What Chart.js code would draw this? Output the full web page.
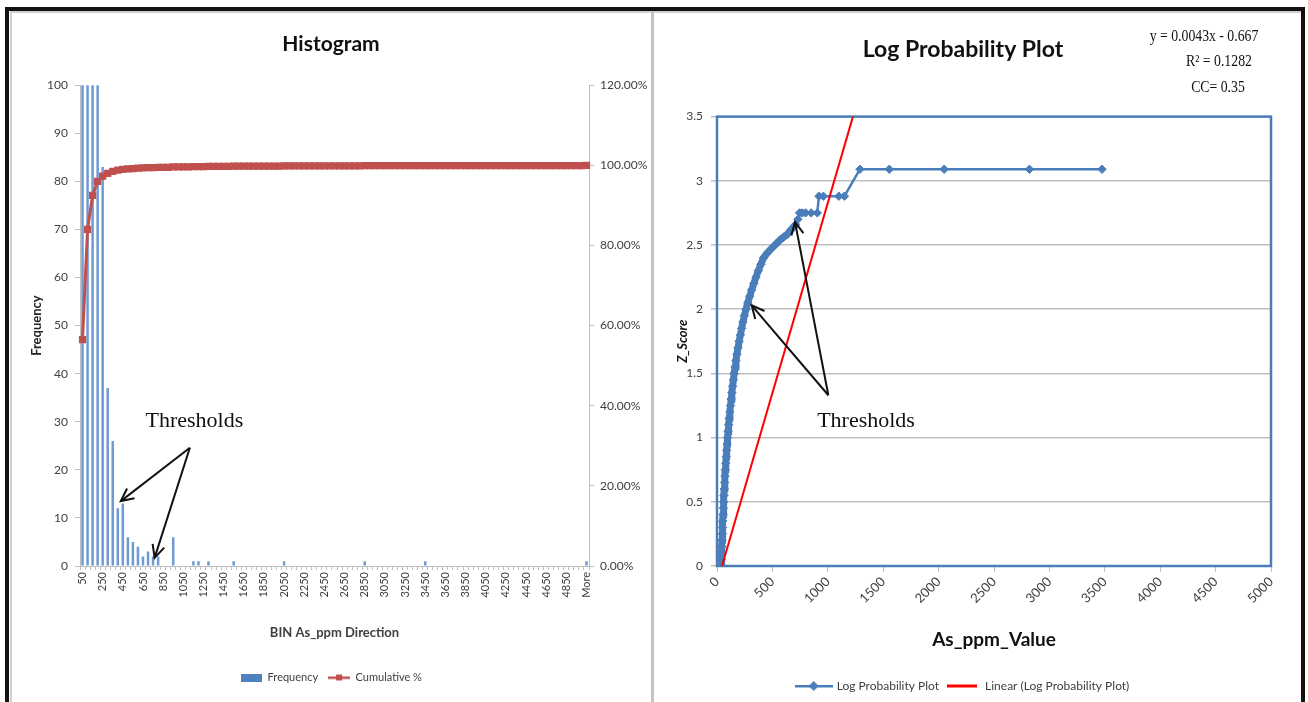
<!DOCTYPE html>
<html lang="en">
<head>
  <meta charset="UTF-8" />
  <title>Histogram and Log Probability Plot</title>
  <script src="https://cdn.jsdelivr.net/npm/chart.js"></script>
  <style>
    body {
      margin: 0;
      background: #fff;
      width: 1308px;
      height: 702px;
      position: relative;
      overflow: hidden;
    }
    #frame {
      position: absolute;
      left: 5px;
      top: 7px;
      width: 1300px;
      height: 710px;
      border: 4px solid #111;
      box-sizing: border-box;
      pointer-events: none;
      z-index: 5;
    }
    .panel {
      position: absolute;
      top: 11px;
      height: 700px;
      border-top: 2px solid #d0d0d0;
      border-left: 2px solid #d0d0d0;
      box-sizing: border-box;
    }
    #divider {
      position: absolute;
      left: 651px;
      top: 11px;
      width: 3px;
      height: 700px;
      background: #c4c4c4;
    }
    canvas { position: absolute; }
  </style>
</head>
<body>
  <div class="panel" style="left:10px;width:642px"></div>
  <div class="panel" style="left:654px;width:650px;border-left:none"></div>
  <div id="divider"></div>
  <canvas id="histChart" style="left:12px;top:13px"></canvas>
  <canvas id="probChart" style="left:655px;top:13px"></canvas>
  <div id="frame"></div>

  <script>
    // HISTOGRAM DATA (bin width 50)
    const binLabels = ['50','100','150','200','250','300','350','400','450','500',
      '550','600','650','700','750','800','850','900','950','1000',
      '1050','1100','1150','1200','1250','1300','1350','1400','1450','1500',
      '1550','1600','1650','1700','1750','1800','1850','1900','1950','2000',
      '2050','2100','2150','2200','2250','2300','2350','2400','2450','2500',
      '2550','2600','2650','2700','2750','2800','2850','2900','2950','3000',
      '3050','3100','3150','3200','3250','3300','3350','3400','3450','3500',
      '3550','3600','3650','3700','3750','3800','3850','3900','3950','4000',
      '4050','4100','4150','4200','4250','4300','4350','4400','4450','4500',
      '4550','4600','4650','4700','4750','4800','4850','4900','4950','5000','More'];

    const frequency = [2540,1240,380,160,83,37,26,12,13,6,
      5,4,2,3,2,2,0,0,6,0,
      0,0,1,1,0,1,0,0,0,0,
      1,0,0,0,0,0,0,0,0,0,
      1,0,0,0,0,0,0,0,0,0,
      0,0,0,0,0,0,1,0,0,0,
      0,0,0,0,0,0,0,0,1,0,
      0,0,0,0,0,0,0,0,0,0,
      0,0,0,0,0,0,0,0,0,0,
      0,0,0,0,0,0,0,0,0,0,1];

    const cumulativePct = [56.5,84.0,92.5,96.0,97.3,98.0,98.5,98.8,99.0,99.1,
      99.2,99.3,99.35,99.4,99.45,99.5,99.5,99.5,99.6,99.6,
      99.6,99.6,99.65,99.7,99.7,99.75,99.75,99.75,99.75,99.75,
      99.8,99.8,99.8,99.8,99.8,99.8,99.8,99.8,99.8,99.8,
      99.85,99.85,99.85,99.85,99.85,99.85,99.85,99.85,99.85,99.85,
      99.85,99.85,99.85,99.85,99.85,99.85,99.9,99.9,99.9,99.9,
      99.9,99.9,99.9,99.9,99.9,99.9,99.9,99.9,99.95,99.95,
      99.95,99.95,99.95,99.95,99.95,99.95,99.95,99.95,99.95,99.95,
      99.95,99.95,99.95,99.95,99.95,99.95,99.95,99.95,99.95,99.95,
      99.95,99.95,99.95,99.95,99.95,99.95,99.95,99.95,99.95,99.95,100];

    // LOG PROBABILITY PLOT DATA
    const asValue = [38,40,42,44,46,48,50,52,55,57,
      60,63,66,69,72,75,79,83,87,91,
      95,100,105,110,116,122,128,134,141,148,
      155,163,171,180,190,200,211,222,234,247,
      262,278,295,313,332,352,373,396,420,455,
      500,535,570,600,630,670,710,730,745,770,
      800,850,905,920,960,1100,1150,1290,1555,2050,2820,3475];
    const zScore = [0.00,0.05,0.10,0.15,0.20,0.25,0.30,0.35,0.40,0.45,
      0.50,0.55,0.60,0.65,0.70,0.75,0.80,0.85,0.90,0.95,
      1.00,1.05,1.10,1.15,1.20,1.25,1.30,1.35,1.40,1.45,
      1.50,1.55,1.60,1.65,1.70,1.75,1.80,1.85,1.90,1.95,
      2.00,2.05,2.10,2.15,2.20,2.25,2.30,2.35,2.40,2.44,
      2.48,2.51,2.54,2.56,2.58,2.62,2.66,2.70,2.75,2.75,
      2.75,2.75,2.75,2.88,2.88,2.88,2.88,3.09,3.09,3.09,3.09,3.09];

    const trendX = [45, 1227];
    const trendZ = [0, 3.5];
    const trendNotes = ['y = 0.0043x - 0.667', 'R\u00B2 = 0.1282', 'CC= 0.35'];

    // legend swatches drawn like the Excel ones
    function swatch(w, h, draw) {
      const c = document.createElement('canvas');
      c.width = w; c.height = h;
      draw(c.getContext('2d'), w, h);
      return c;
    }
    const freqSwatch = swatch(21, 8, (g, w, h) => { g.fillStyle = '#4F81BD'; g.fillRect(0, 0, w, h); });
    const cumSwatch = swatch(22, 8, (g, w, h) => {
      g.fillStyle = '#C0504D'; g.fillRect(0, 3, w, 2.5); g.fillRect(w / 2 - 3, 1, 6, 6);
    });
    const probSwatch = swatch(38, 10, (g, w, h) => {
      g.fillStyle = '#4A7EBB'; g.fillRect(0, 4, w, 2.5);
      g.beginPath(); g.moveTo(w / 2, 0); g.lineTo(w / 2 + 5, 5); g.lineTo(w / 2, 10); g.lineTo(w / 2 - 5, 5); g.fill();
    });
    const linSwatch = swatch(30, 4, (g, w) => { g.fillStyle = '#FF0000'; g.fillRect(0, 0.5, w, 3); });
    const swatches = {
      'Frequency': freqSwatch,
      'Cumulative %': cumSwatch,
      'Log Probability Plot': probSwatch,
      'Linear (Log Probability Plot)': linSwatch
    };

    const legendLabels = {
      usePointStyle: true,
      padding: 10,
      color: '#404040',
      font: { family: 'Lato', size: 12 },
      sort: (a, b) => a.datasetIndex - b.datasetIndex,
      generateLabels(chart) {
        const items = Chart.defaults.plugins.legend.labels.generateLabels(chart);
        items.forEach(it => { it.pointStyle = swatches[it.text]; });
        return items;
      }
    };

    // "Thresholds" note with arrows, anchored in data units
    const arrowNotes = {
      id: 'arrowNotes',
      afterDatasetsDraw(chart, args, opts) {
        if (!opts.label) return;
        const xs = chart.scales[opts.xAxis], ys = chart.scales[opts.yAxis];
        const px = p => [xs.getPixelForValue(p[0]), ys.getPixelForValue(p[1])];
        const ctx = chart.ctx;
        ctx.save();
        ctx.font = '22px "Liberation Serif"';
        ctx.fillStyle = '#111';
        ctx.textAlign = 'center';
        ctx.textBaseline = 'middle';
        const [tx, ty] = px(opts.labelAt);
        ctx.fillText(opts.label, tx, ty);
        const [ax, ay] = px(opts.from);
        ctx.strokeStyle = '#111';
        ctx.lineWidth = 2;
        opts.to.forEach(t => {
          const [bx, by] = px(t);
          ctx.beginPath(); ctx.moveTo(ax, ay); ctx.lineTo(bx, by); ctx.stroke();
          const ang = Math.atan2(by - ay, bx - ax);
          ctx.beginPath();
          ctx.moveTo(bx - 14 * Math.cos(ang - 0.45), by - 14 * Math.sin(ang - 0.45));
          ctx.lineTo(bx, by);
          ctx.lineTo(bx - 14 * Math.cos(ang + 0.45), by - 14 * Math.sin(ang + 0.45));
          ctx.stroke();
        });
        ctx.restore();
      }
    };

    const plotBorder = {
      id: 'plotBorder',
      beforeDatasetsDraw(chart, args, opts) {
        if (!opts.color) return;
        const a = chart.chartArea, ctx = chart.ctx;
        ctx.save();
        ctx.strokeStyle = opts.color;
        ctx.lineWidth = 2.5;
        ctx.strokeRect(a.left, a.top, a.right - a.left, a.bottom - a.top);
        ctx.restore();
      }
    };

    const trendText = {
      id: 'trendText',
      afterDraw(chart, args, opts) {
        if (!opts.lines) return;
        const ctx = chart.ctx;
        ctx.save();
        ctx.font = '16px "Liberation Serif"';
        ctx.fillStyle = '#111';
        ctx.textAlign = 'center';
        ctx.textBaseline = 'middle';
        const x = chart.chartArea.right - 57;
        ctx.translate(x, 0);
        ctx.scale(0.86, 1);
        ctx.fillText(opts.lines[0], -10 / 0.86, 24);
        ctx.fillText(opts.lines[1], 5 / 0.86, 49);
        ctx.fillText(opts.lines[2], 4 / 0.86, 75);
        ctx.restore();
      }
    };

    const tickFont = { family: 'Lato', size: 12 };
    const axisGray = '#BFBFBF';

    // HISTOGRAM
    const histCanvas = document.getElementById('histChart');
    histCanvas.width = 638; histCanvas.height = 686;
    new Chart(histCanvas, {
      type: 'bar',
      data: {
        labels: binLabels,
        datasets: [{
          label: 'Frequency',
          data: frequency,
          backgroundColor: '#6F9BD5',
          barPercentage: 0.5,
          categoryPercentage: 1,
          order: 1
        }, {
          type: 'line',
          label: 'Cumulative %',
          data: cumulativePct,
          yAxisID: 'y1',
          borderColor: '#C0504D',
          backgroundColor: '#C0504D',
          borderWidth: 3,
          pointStyle: 'rect',
          pointRadius: 3,
          tension: 0,
          order: 0
        }]
      },
      options: {
        responsive: false,
        animation: false,
        layout: { padding: { bottom: 6 } },
        plugins: {
          title: {
            display: true, text: 'Histogram', color: '#111',
            font: { family: 'Lato', size: 21, weight: 'bold' },
            padding: { top: 19, bottom: 28 }
          },
          legend: { position: 'bottom', labels: { ...legendLabels, font: { family: 'Lato', size: 11 }, pointStyleWidth: 22 } },
          tooltip: { enabled: false },
          arrowNotes: {
            label: 'Thresholds', xAxis: 'x', yAxis: 'y',
            labelAt: [22.2, 30.2], from: [21.3, 24.6], to: [[7.6, 13.5], [14.3, 1.7]]
          }
        },
        scales: {
          x: {
            grid: { drawOnChartArea: false, tickLength: 4, color: axisGray },
            border: { color: axisGray },
            ticks: {
              autoSkip: false, minRotation: 90, maxRotation: 90, padding: 2,
              color: '#404040', font: { family: 'Lato', size: 11 },
              callback: (v, i) => (i % 4 === 0 ? binLabels[i] : '')
            },
            title: {
              display: true, text: 'BIN As_ppm Direction', color: '#404040',
              font: { family: 'Lato', size: 13, weight: 'bold' },
              padding: { top: 0, bottom: 21 }
            },
            afterFit: s => { s.height = 96; }
          },
          y: {
            position: 'left', min: 0, max: 100,
            grid: { drawOnChartArea: false, tickLength: 5, color: axisGray },
            border: { color: axisGray },
            ticks: { stepSize: 10, padding: 7, color: '#404040', font: tickFont },
            title: {
              display: true, text: 'Frequency', color: '#222',
              font: { family: 'Lato', size: 13, weight: 'bold' },
              padding: { top: 17, bottom: 0 }
            },
            afterFit: s => { s.width = 68; }
          },
          y1: {
            position: 'right', min: 0, max: 120,
            grid: { drawOnChartArea: false, tickLength: 5, color: axisGray },
            border: { color: axisGray },
            ticks: { stepSize: 20, padding: 6, color: '#404040', font: tickFont,
              callback: v => v.toFixed(2) + '%' },
            afterFit: s => { s.width = 61; }
          }
        }
      },
      plugins: [arrowNotes]
    });

    // LOG PROBABILITY PLOT
    const probCanvas = document.getElementById('probChart');
    probCanvas.width = 642; probCanvas.height = 692;
    new Chart(probCanvas, {
      type: 'line',
      data: {
        datasets: [{
          label: 'Log Probability Plot',
          data: asValue.map((x, i) => ({ x, y: zScore[i] })),
          borderColor: '#4A7EBB',
          backgroundColor: '#4A7EBB',
          borderWidth: 2.5,
          segment: { borderWidth: s => (s.p1.parsed.x < 720 ? 7 : 2.5) },
          pointStyle: 'rectRot',
          pointRadius: 4.2,
          pointBorderWidth: 1,
          tension: 0,
          order: 1
        }, {
          label: 'Linear (Log Probability Plot)',
          data: trendX.map((x, i) => ({ x, y: trendZ[i] })),
          borderColor: '#FF0000',
          backgroundColor: '#FF0000',
          borderWidth: 2,
          pointRadius: 0,
          order: 0
        }]
      },
      options: {
        responsive: false,
        animation: false,
        layout: { padding: { right: 26, bottom: 3 } },
        plugins: {
          title: {
            display: true, text: 'Log Probability Plot', color: '#111',
            font: { family: 'Lato', size: 23, weight: 'bold' },
            padding: { top: 23, bottom: 53 }
          },
          legend: { position: 'bottom', labels: { ...legendLabels, padding: 6, pointStyleWidth: 34 } },
          tooltip: { enabled: false },
          plotBorder: { color: '#4A7EBB' },
          trendText: { lines: trendNotes },
          arrowNotes: {
            label: 'Thresholds', xAxis: 'x', yAxis: 'y',
            labelAt: [1345, 1.13], from: [1005, 1.33], to: [[313, 2.03], [704, 2.68]]
          }
        },
        scales: {
          x: {
            type: 'linear', min: 0, max: 5000,
            grid: { drawOnChartArea: false, tickLength: 6, color: axisGray },
            border: { display: false },
            ticks: { stepSize: 500, minRotation: 45, maxRotation: 45, padding: 2,
              color: '#404040', font: { family: 'Lato', size: 13 }, callback: v => String(v) },
            title: {
              display: true, text: 'As_ppm_Value', color: '#111',
              font: { family: 'Lato', size: 19, weight: 'bold' },
              padding: { top: 0, bottom: 23 }
            },
            afterFit: s => { s.height = 108; }
          },
          y: {
            min: 0, max: 3.5,
            grid: { color: axisGray, lineWidth: 1.5, tickLength: 6 },
            border: { display: false },
            ticks: { stepSize: 0.5, padding: 8, color: '#404040', font: tickFont, callback: v => String(v) },
            title: {
              display: true, text: 'Z_Score', color: '#111',
              font: { family: 'Lato', size: 13, weight: 'bold', style: 'italic' },
              padding: { top: 20, bottom: 0 }
            },
            afterFit: s => { s.width = 62; }
          }
        }
      },
      plugins: [plotBorder, arrowNotes, trendText]
    });
  </script>
</body>
</html>
